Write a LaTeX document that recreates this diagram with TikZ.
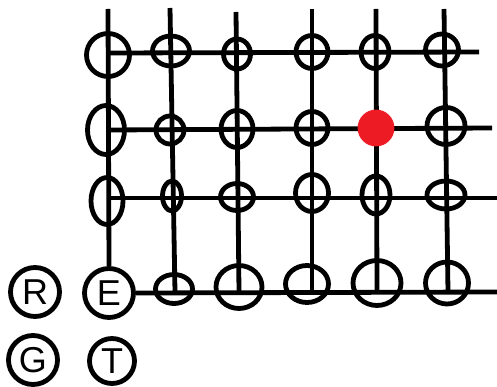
\documentclass[tikz,border=0pt]{standalone}
\usepackage{fontspec}
\setsansfont{Liberation Sans}
\usetikzlibrary{shapes.geometric}
\definecolor{paintred}{RGB}{237,28,36}
\begin{document}
\begin{tikzpicture}[
  x=1pt,
  y=-1pt,
  line width=4.8pt,
  ring/.style={draw, ellipse, inner sep=0pt},
  letter/.style={ring, minimum size=49pt, font=\sffamily\fontsize{36}{36}\selectfont}
]
\useasboundingbox (0,0) rectangle (497,387);

% letter buttons
\node[letter] (R) at (35,292) {R};
\node[letter] (E) at (109,293) {E};
\node[letter] (G) at (33,360) {G};
\node[letter, minimum size=45pt] (T) at (112,361) {T};

% vertical wires
\coordinate (t1) at (108,9);
\draw (t1) -- (E.north);
\foreach \c/\xt/\yt/\xb in {2/170/8/175, 3/236/12/239, 4/312/9/312, 5/376/9/377, 6/444/9/448} {
  \coordinate (t\c) at (\xt,\yt);
  \coordinate (b\c) at (\xb,292);
  \draw (t\c) -- (b\c);
}

% horizontal wires
\foreach \r/\yl/\xr/\yr in {1/53/479/52, 2/130/492/128, 3/198/497/198} {
  \coordinate (l\r) at (108,\yl);
  \coordinate (r\r) at (\xr,\yr);
  \draw (l\r) -- (r\r);
}
\coordinate (r4) at (497,292);
\draw (E.east) -- (r4);

% junction rings
\foreach \n/\x/\y/\w/\h in {
  j11/108/55/43/43, j12/171/51/37/30, j13/237/54/27/30,
  j14/312/52/32/33, j15/375/52/28/33, j16/442/50/33/32,
  j21/106/130/37/49, j22/170/130/28/28, j23/237/129/32/37,
  j24/312/128/32/33, j26/446/126/38/37,
  j31/107/201/32/47, j32/172/196/19/30, j33/237/197/33/27,
  j34/312/193/33/37, j35/376/195/28/38, j36/446/195/38/28,
  j42/174/289/37/29, j43/239/287/46/43, j44/307/284/43/37,
  j45/377/283/48/45, j46/447/283/43/42} {
  \node[ring, minimum width=\w pt, minimum height=\h pt] (\n) at (\x,\y) {};
}

% marked junction
\node[ring, draw=paintred, fill=paintred, minimum size=32pt] (j25) at (376,128) {};
\end{tikzpicture}
\end{document}
